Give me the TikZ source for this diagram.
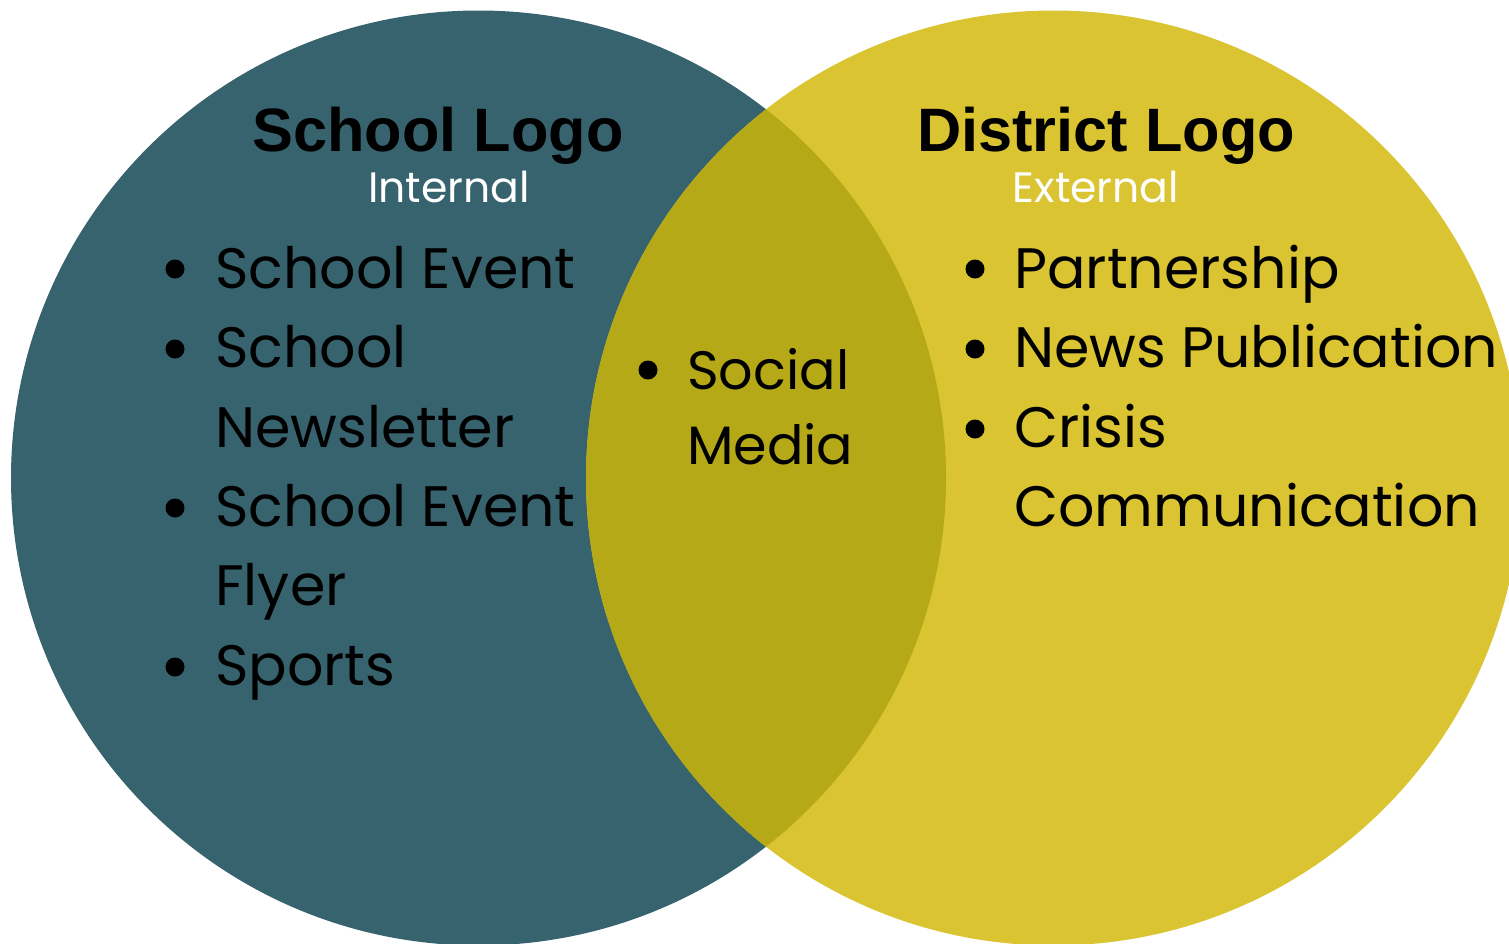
\documentclass[tikz,border=0pt]{standalone}
\usepackage{fontspec}
\setmainfont{Poppins}
\newfontfamily\headfont{Liberation Sans}
\definecolor{teal}{HTML}{37636E}
\definecolor{gold}{HTML}{DAC432}
\definecolor{olive}{HTML}{B6A918}
\tikzset{
  heading/.style={anchor=base, inner sep=0pt, font=\headfont\bfseries\fontsize{61.3}{62}\selectfont},
  subhead/.style={anchor=base, inner sep=0pt, text=white, font=\fontsize{42.5}{42.5}\selectfont},
  item/.style={anchor=base west, inner sep=0pt, font=\fontsize{57}{57}\selectfont},
  miditem/.style={anchor=base west, inner sep=0pt, font=\fontsize{54}{54}\selectfont},
  dot/.style={circle, fill=black, inner sep=0pt, minimum size=19pt}
}
\begin{document}
\begin{tikzpicture}[x=1pt, y=-1pt]
  \useasboundingbox (0,0) rectangle (1509,943);
  % the two sets and their overlap
  \fill[teal] (478.5,478) circle[radius=467.5];
  \fill[gold] (1053.5,478) circle[radius=467.5];
  \begin{scope}
    \clip (478.5,478) circle[radius=467.5];
    \fill[olive] (1053.5,478) circle[radius=467.5];
  \end{scope}
  % headings
  \node[heading] (school) at (438,151) {School Logo};
  \node[subhead] (internal) at (449,202) {Internal};
  \node[heading] (district) at (1106,151) {District Logo};
  \node[subhead] (external) at (1096,202) {External};
  % left set
  \node[dot] (b1) at (175,269) {};
  \node[item] (i1) at (215,288) {School Event};
  \node[dot] (b2) at (175,349) {};
  \node[item] (i2a) at (215,367) {School};
  \node[item] (i2b) at (215,447) {Newsletter};
  \node[dot] (b3) at (175,508) {};
  \node[item] (i3a) at (215,526) {School Event};
  \node[item] (i3b) at (215,605) {Flyer};
  \node[dot] (b4) at (175,667) {};
  \node[item] (i4) at (215,685) {Sports};
  % overlap
  \node[dot] (b5) at (648,370) {};
  \node[miditem] (i5a) at (687,389) {Social};
  \node[miditem] (i5b) at (687,464) {Media};
  % right set
  \node[dot] (b6) at (975,269) {};
  \node[item] (i6) at (1014,288) {Partnership};
  \node[dot] (b7) at (975,349) {};
  \node[item] (i7) at (1014,367) {News Publication};
  \node[dot] (b8) at (975,429) {};
  \node[item] (i8a) at (1014,447) {Crisis};
  \node[item] (i8b) at (1014,526) {Communication};
\end{tikzpicture}
\end{document}
